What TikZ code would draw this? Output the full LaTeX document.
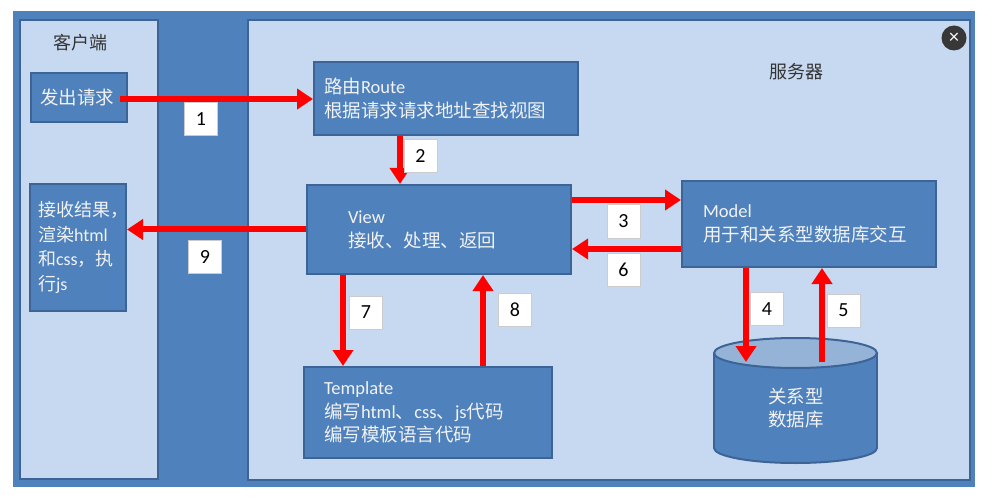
\documentclass[tikz,border=0pt]{standalone}
\usepackage{fontspec}
\setmainfont{Carlito}
\newfontfamily\cjk{Noto Sans CJK SC}
\usetikzlibrary{arrows.meta}
\definecolor{frameblue}{HTML}{4F81BD}
\definecolor{panelfill}{HTML}{C6D9F1}
\definecolor{edgeblue}{HTML}{3C6496}
\definecolor{dbtopc}{HTML}{95B3D7}
\definecolor{closegray}{HTML}{383838}
\definecolor{boxtext}{HTML}{F2F2F2}
\newcommand\zh[1]{{\cjk #1}}
\tikzset{
  panel/.style={draw=edgeblue, line width=2.5pt, fill=panelfill},
  bluebox/.style={draw=edgeblue, line width=2pt, fill=frameblue, text=boxtext,
    align=left, inner ysep=0pt, anchor=north west,
    font=\fontsize{18.5}{24}\selectfont},
  lab/.style={draw=black!20, line width=1pt, fill=white, minimum width=33pt,
    minimum height=33pt, inner sep=0pt, font=\fontsize{20}{22}\selectfont},
  arr/.style={draw=red, line width=6pt, -{Triangle[length=16pt,width=20pt]}},
  header/.style={font=\cjk\fontsize{18}{20}\selectfont, text=black!80},
}
\begin{document}
\begin{tikzpicture}[x=1pt,y=-1pt]
\useasboundingbox (0,0) rectangle (985,497);
\fill[white] (0,0) rectangle (985,497);
% frame and panels
\fill[frameblue] (13,11) rectangle (975,487);
\filldraw[panel] (20,20) rectangle (158,479);
\filldraw[panel] (248,20) rectangle (970,480);
% close button
\node[circle, fill=closegray, minimum size=25pt, inner sep=0pt, text=white,
  font=\fontsize{20}{20}\selectfont] (close) at (954,38) {×};
% headers
\node[header] (client) at (80,43) {客户端};
\node[header] (server) at (796,72) {服务器};
% boxes
\node[bluebox, minimum width=96pt, minimum height=49pt, inner xsep=9pt,
  text width=78pt] (req) at (30,72) {\zh{发出请求}};
\node[bluebox, minimum width=96pt, minimum height=127pt, inner xsep=8pt,
  text width=80pt, font=\fontsize{18}{24.5}\selectfont] (recv) at (29,183)
  {\zh{接收结果，}\\\zh{渲染}html\\\zh{和}css\zh{，执}\\\zh{行}js};
\node[bluebox, minimum width=264pt, minimum height=73pt, inner xsep=10pt,
  text width=244pt] (route) at (313,61)
  {\zh{路由}Route\\\zh{根据请求请求地址查找视图}};
\node[bluebox, minimum width=264pt, minimum height=89pt, inner xsep=41pt,
  text width=182pt] (view) at (306,184)
  {View\\\zh{接收、处理、返回}};
\node[bluebox, minimum width=254pt, minimum height=86pt, inner xsep=21pt,
  text width=212pt] (model) at (681,180)
  {Model\\\zh{用于和关系型数据库交互}};
\node[bluebox, minimum width=248pt, minimum height=91pt, inner xsep=20pt,
  text width=208pt, font=\fontsize{18.5}{23.5}\selectfont] (template) at (303,366)
  {Template\\\zh{编写}html\zh{、}css\zh{、}js\zh{代码}\\\zh{编写模板语言代码}};
% database cylinder
\filldraw[fill=frameblue, draw=edgeblue, line width=2pt] (795.5,448) ellipse [x radius=81.5, y radius=15];
\fill[frameblue] (714,353) rectangle (877,448);
\draw[edgeblue, line width=2pt] (714,353) -- (714,448) (877,353) -- (877,448);
\filldraw[fill=dbtopc, draw=edgeblue, line width=2pt] (795.5,353) ellipse [x radius=81.5, y radius=15];
\coordinate (dbtop) at (795.5,362);
\node[text=boxtext, align=center, font=\cjk\fontsize{18.5}{23}\selectfont] (db) at (796,408) {关系型\\数据库};
% connectors
\coordinate (s1) at ([xshift=-8pt,yshift=-1.5pt]req.east);
\draw[arr] (s1) -- (s1 -| route.west);
\coordinate (s2) at ([xshift=-46pt]route.south);
\draw[arr] (s2) -- (s2 |- view.north);
\coordinate (s3) at ([yshift=29.5pt]view.east);
\draw[arr] (s3) -- (s3 -| model.west);
\coordinate (s6) at ([yshift=-25pt]model.west);
\draw[arr] (s6) -- (s6 -| view.east);
\coordinate (s9) at (view.west);
\draw[arr] (s9) -- (s9 -| recv.east);
\coordinate (s7) at ([xshift=-96pt]view.south);
\draw[arr] (s7) -- (s7 |- template.north);
\coordinate (s8) at ([xshift=55pt]template.north);
\draw[arr] (s8) -- (s8 |- view.south);
\coordinate (s4) at ([xshift=-63pt]model.south);
\draw[arr] (s4) -- (s4 |- dbtop);
\coordinate (s5) at ([xshift=13pt]model.south);
\draw[arr] (s5 |- dbtop) -- (s5);
% step labels
\node[lab] (l1) at (201,119) {1};
\node[lab] (l2) at (420.5,156.5) {2};
\node[lab] (l3) at (623.5,221.5) {3};
\node[lab] (l6) at (623.5,270) {6};
\node[lab] (l9) at (205,257) {9};
\node[lab] (l7) at (366,312.5) {7};
\node[lab] (l8) at (515,310) {8};
\node[lab] (l4) at (767,309) {4};
\node[lab] (l5) at (843.5,310.5) {5};
\end{tikzpicture}
\end{document}
